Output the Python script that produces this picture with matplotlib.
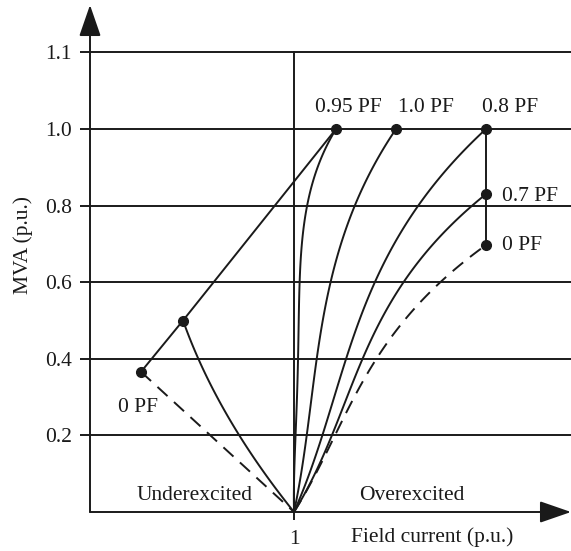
import numpy as np
import matplotlib.pyplot as plt

# field current (p.u., x) and MVA (p.u., y)
pf095_mva = [0.0, 0.2, 0.4, 0.6, 0.8, 0.9, 0.95, 1.0]
pf095_if = [1.0, 1.010, 1.016, 1.029, 1.069, 1.111, 1.152, 1.206]
pf10_mva = [0.0, 0.2, 0.4, 0.6, 0.8, 0.9, 1.0]
pf10_if = [1.0, 1.059, 1.118, 1.176, 1.286, 1.405, 1.5]
pf08_mva = [0.0, 0.2, 0.4, 0.6, 0.8, 0.9, 1.0]
pf08_if = [1.0, 1.143, 1.258, 1.387, 1.603, 1.779, 1.941]
pf07_mva = [0.0, 0.2, 0.4, 0.6, 0.8, 0.83]
pf07_if = [1.0, 1.168, 1.359, 1.528, 1.853, 1.941]
pf0_over_mva = [0.0, 0.2, 0.4, 0.6, 0.697]
pf0_over_if = [1.0, 1.190, 1.422, 1.699, 1.941]
under_mva = [0.5, 0.4, 0.3, 0.2, 0.1, 0.0]
under_if = [0.456, 0.529, 0.621, 0.725, 0.873, 1.0]

# limit line: 0 PF underexcited -> underexcited knee -> 0.95 PF
limit_if = [0.25, 0.456, 1.206]
limit_mva = [0.366, 0.5, 1.0]

# dots
dot_if = [0.25, 0.456, 1.206, 1.5, 1.941, 1.941, 1.941]
dot_mva = [0.366, 0.5, 1.0, 1.0, 1.0, 0.83, 0.697]

# the top gridline is labelled 1.1 but sits one step (0.2) above 1.0
y_ticks = [0.2, 0.4, 0.6, 0.8, 1.0, 1.2]
y_tick_labels = ["0.2", "0.4", "0.6", "0.8", "1.0", "1.1"]

ink = '#1a1a1a'
lw = 1.4
plt.rcParams['font.family'] = ['Liberation Serif', 'DejaVu Serif']
fs = 15.5


def smooth(xs, ys, deg=3, n=120):
  # least squares fit of field current vs MVA, ends pinned by weight,
  # so reading noise does not show up as wiggles
  xs = np.asarray(xs, float)
  ys = np.asarray(ys, float)
  w = np.ones_like(ys)
  w[0] = w[-1] = 30
  coef = np.polyfit(ys, xs, deg, w=w)
  yy = np.linspace(ys[0], ys[-1], n)
  return np.polyval(coef, yy), yy


fig = plt.figure(figsize=(5.71, 5.51), dpi=100)
ax = fig.add_axes([90 / 571, 39 / 551, 481 / 571, 507 / 551])
ax.set_xlim(0, 481 / 204)
ax.set_ylim(0, 507 / 383)

for s in ax.spines.values():
  s.set_visible(False)

ax.set_yticks(y_ticks)
ax.set_yticklabels(y_tick_labels, fontsize=fs, color=ink)
ax.set_xticks([1])
ax.set_xticklabels(["1"], fontsize=fs, color=ink)
ax.tick_params(axis='y', direction='out', length=7, width=lw, color=ink, pad=6)
ax.tick_params(axis='x', direction='out', length=6, width=lw, color=ink, pad=7)
ax.grid(axis='y', color=ink, lw=lw)
ax.set_axisbelow(True)

# axes with arrow heads
arrow = dict(arrowstyle='-|>,head_length=1.3,head_width=0.45', lw=lw, color=ink,
             shrinkA=0, shrinkB=0, mutation_scale=15)
ax.annotate('', xy=(0, 1), xytext=(0, 0), xycoords='axes fraction', arrowprops=arrow)
ax.annotate('', xy=(1, 0), xytext=(0, 0), xycoords='axes fraction', arrowprops=arrow)

ax.plot([1, 1], [0, y_ticks[-1]], color=ink, lw=lw)

for xs, ys, deg in [(pf095_if, pf095_mva, 4), (pf10_if, pf10_mva, 3), (pf08_if, pf08_mva, 3),
                    (pf07_if, pf07_mva, 3), (under_if, under_mva, 2)]:
  cx, cy = smooth(xs, ys, deg)
  ax.plot(cx, cy, color=ink, lw=lw)

cx, cy = smooth(pf0_over_if, pf0_over_mva, 3)
ax.plot(cx, cy, color=ink, lw=lw, dashes=(7, 4.5))
ax.plot([limit_if[0], 1.0], [limit_mva[0], 0.0], color=ink, lw=lw, dashes=(7, 4.5))

ax.plot(limit_if, limit_mva, color=ink, lw=lw)
ax.plot([pf08_if[-1], pf0_over_if[-1]], [pf08_mva[-1], pf0_over_mva[-1]], color=ink, lw=lw)
ax.plot(dot_if, dot_mva, 'o', color=ink, markersize=7, zorder=5)

ax.text(1.103, 1.055, "0.95 PF", fontsize=fs, color=ink, ha='left', va='center')
ax.text(1.510, 1.055, "1.0 PF", fontsize=fs, color=ink, ha='left', va='center')
ax.text(1.922, 1.055, "0.8 PF", fontsize=fs, color=ink, ha='left', va='center')
ax.text(2.020, 0.825, "0.7 PF", fontsize=fs, color=ink, ha='left', va='center')
ax.text(2.020, 0.695, "0 PF", fontsize=fs, color=ink, ha='left', va='center')
ax.text(0.137, 0.272, "0 PF", fontsize=fs, color=ink, ha='left', va='center')
ax.text(0.515, 0.044, "Underexcited", fontsize=fs, color=ink, ha='center', va='center')
ax.text(1.578, 0.042, "Overexcited", fontsize=fs, color=ink, ha='center', va='center')
ax.text(1.279, -0.065, "Field current (p.u.)", fontsize=fs, color=ink, ha='left', va='center')
fig.text(23 / 571, 1 - 245 / 551, "MVA (p.u.)", fontsize=fs, color=ink, rotation=90,
         ha='center', va='center')

fig.savefig('out.png', dpi=100)
